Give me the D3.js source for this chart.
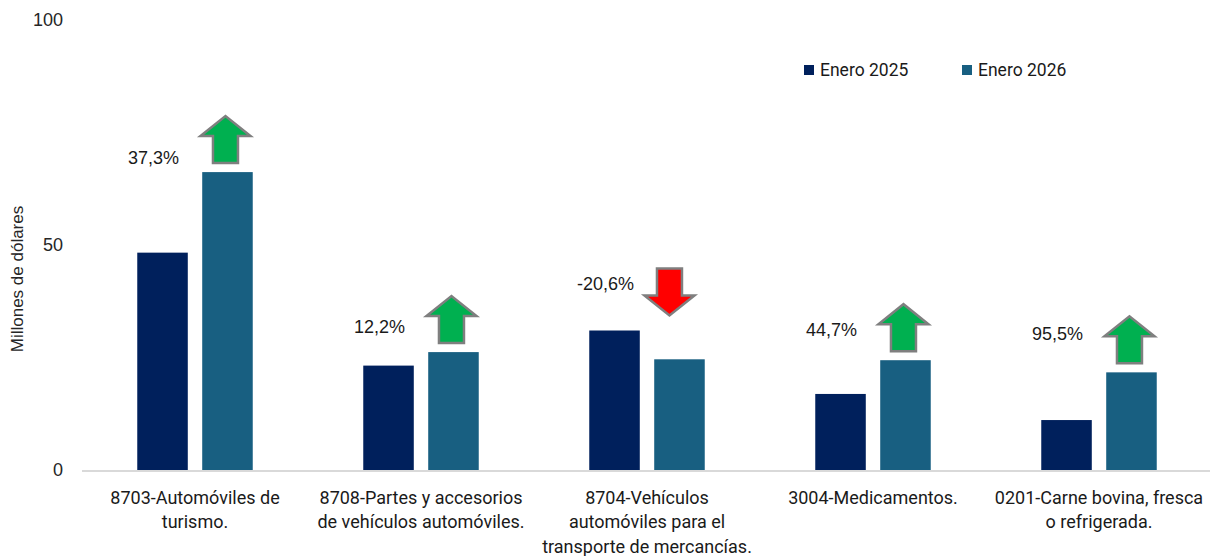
<!DOCTYPE html>
<html>
<head>
<meta charset="utf-8">
<script src="https://cdn.jsdelivr.net/npm/d3@7"></script>
<style>
  html, body { margin: 0; padding: 0; background: #ffffff; }
  svg { display: block; }
</style>
</head>
<body>
<svg id="chart" width="1210" height="556"></svg>
<script>
// ---- data ----
const categories = [
  "8703-Automóviles de turismo.",
  "8708-Partes y accesorios de vehículos automóviles.",
  "8704-Vehículos automóviles para el transporte de mercancías.",
  "3004-Medicamentos.",
  "0201-Carne bovina, fresca o refrigerada."
];
const categoryLines = [
  ["8703-Automóviles de", "turismo."],
  ["8708-Partes y accesorios", "de vehículos automóviles."],
  ["8704-Vehículos", "automóviles para el", "transporte de mercancías."],
  ["3004-Medicamentos."],
  ["0201-Carne bovina, fresca", "o refrigerada."]
];
const seriesNames = ["Enero 2025", "Enero 2026"];
const values2025 = [48.3, 23.2, 31.0, 16.9, 11.1];
const values2026 = [66.2, 26.2, 24.6, 24.4, 21.7];
const changeLabels = ["37,3%", "12,2%", "-20,6%", "44,7%", "95,5%"];
const yTicks = [0, 50, 100];
const yTitle = "Millones de dólares";

// ---- layout ----
const colors = ["#00205C", "#185F81"];
const labelDy = [18, 7, -8, 2, -6];

const svg = d3.select("#chart");
const x0 = d3.scaleBand().domain(categories).range([82, 1212])
  .paddingInner(0.489).paddingOuter(0.2445);
const x1 = d3.scaleBand().domain(seriesNames).range([0, x0.bandwidth()])
  .paddingInner(0.222).paddingOuter(0);
const y = d3.scaleLinear().domain([0, 100]).range([470, 20]);
const color = d3.scaleOrdinal().domain(seriesNames).range(colors);

// y axis tick labels
const yAxis = d3.axisLeft(y).tickValues(yTicks).tickSize(0).tickPadding(0).tickFormat(d3.format("d"));
const gy = svg.append("g").attr("transform", "translate(63,0)").call(yAxis);
gy.select(".domain").remove();
gy.selectAll("text")
  .attr("font-family", "'Liberation Sans', Arial, sans-serif")
  .attr("font-size", 18).attr("fill", "#262626");

// y title
svg.append("text")
  .attr("transform", "translate(17.5,279) rotate(-90)")
  .attr("text-anchor", "middle").attr("dominant-baseline", "central")
  .attr("font-family", "'Liberation Sans', Arial, sans-serif")
  .attr("font-size", 17).attr("fill", "#262626")
  .text(yTitle);

// bars
const rows = categories.map((c, i) => ({ cat: c, i, vals: [values2025[i], values2026[i]] }));
const groups = svg.append("g").selectAll("g").data(rows).join("g")
  .attr("transform", d => `translate(${x0(d.cat)},0)`);
groups.selectAll("rect")
  .data(d => d.vals.map((v, k) => ({ key: seriesNames[k], v })))
  .join("rect")
  .attr("x", d => x1(d.key))
  .attr("y", d => y(d.v))
  .attr("width", x1.bandwidth())
  .attr("height", d => y(0) - y(d.v))
  .attr("fill", d => color(d.key));

// x axis line
svg.append("line")
  .attr("x1", 82).attr("x2", 1210)
  .attr("y1", y(0) + 1).attr("y2", y(0) + 1)
  .attr("stroke", "#d9d9d9").attr("stroke-width", 2);

// category labels
const catText = svg.append("g").selectAll("text").data(rows).join("text")
  .attr("text-anchor", "middle")
  .attr("font-family", "Roboto, 'Noto Sans', sans-serif")
  .attr("font-size", 18).attr("fill", "#1a1a1a")
  .attr("transform", d => `translate(${x0(d.cat) + x0.bandwidth() / 2},0)`);
catText.selectAll("tspan").data(d => categoryLines[d.i]).join("tspan")
  .attr("x", 0)
  .attr("y", (d, j) => 497 + j * 24.5)
  .attr("dominant-baseline", "central")
  .text(d => d);

// arrows
const AW = 50, AH = 47, HH = 20, SW = 25;
function upArrow(cx, bottom) {
  const t = bottom - AH;
  return `M${cx - SW / 2},${bottom} L${cx - SW / 2},${t + HH} L${cx - AW / 2},${t + HH} L${cx},${t} L${cx + AW / 2},${t + HH} L${cx + SW / 2},${t + HH} L${cx + SW / 2},${bottom} Z`;
}
function downArrow(cx, tip) {
  const t = tip - AH;
  const hb = tip - HH;
  return `M${cx - SW / 2},${t} L${cx + SW / 2},${t} L${cx + SW / 2},${hb} L${cx + AW / 2},${hb} L${cx},${tip} L${cx - AW / 2},${hb} L${cx - SW / 2},${hb} Z`;
}
const arrowInfo = rows.map(d => {
  const up = d.vals[1] >= d.vals[0];
  const cx2026 = x0(d.cat) + x1(seriesNames[1]) + x1.bandwidth() / 2;
  const cx2025 = x0(d.cat) + x1(seriesNames[0]) + x1.bandwidth() / 2;
  let path, cy;
  if (up) {
    const bottom = y(d.vals[1]) - 9;
    path = upArrow(cx2026 - 2, bottom);
    cy = bottom - AH / 2;
  } else {
    const tip = y(Math.max(d.vals[0], d.vals[1])) - 15;
    path = downArrow(cx2026 - 10, tip);
    cy = tip - AH / 2;
  }
  return { up, path, cy, lx: cx2025 - 9, i: d.i };
});
svg.append("g").selectAll("path").data(arrowInfo).join("path")
  .attr("d", d => d.path)
  .attr("fill", d => d.up ? "#00B050" : "#FF0000")
  .attr("stroke", "#7f7f7f").attr("stroke-width", 2.5)
  .attr("stroke-linejoin", "miter");

// change labels
svg.append("g").selectAll("text").data(arrowInfo).join("text")
  .attr("x", d => d.lx)
  .attr("y", d => d.cy + labelDy[d.i])
  .attr("text-anchor", "middle").attr("dominant-baseline", "central")
  .attr("font-family", "'Liberation Sans', Arial, sans-serif")
  .attr("font-size", 18).attr("fill", "#1a1a1a")
  .text(d => changeLabels[d.i]);

// legend
const legend = svg.append("g").selectAll("g").data(seriesNames).join("g")
  .attr("transform", (d, i) => `translate(${804 + i * 158},65)`);
legend.append("rect").attr("width", 10).attr("height", 10).attr("fill", d => color(d));
legend.append("text").attr("x", 16).attr("y", 5)
  .attr("dominant-baseline", "central")
  .attr("font-family", "Roboto, 'Noto Sans', sans-serif")
  .attr("font-size", 17.5).attr("fill", "#1a1a1a")
  .text(d => d);
</script>
</body>
</html>
